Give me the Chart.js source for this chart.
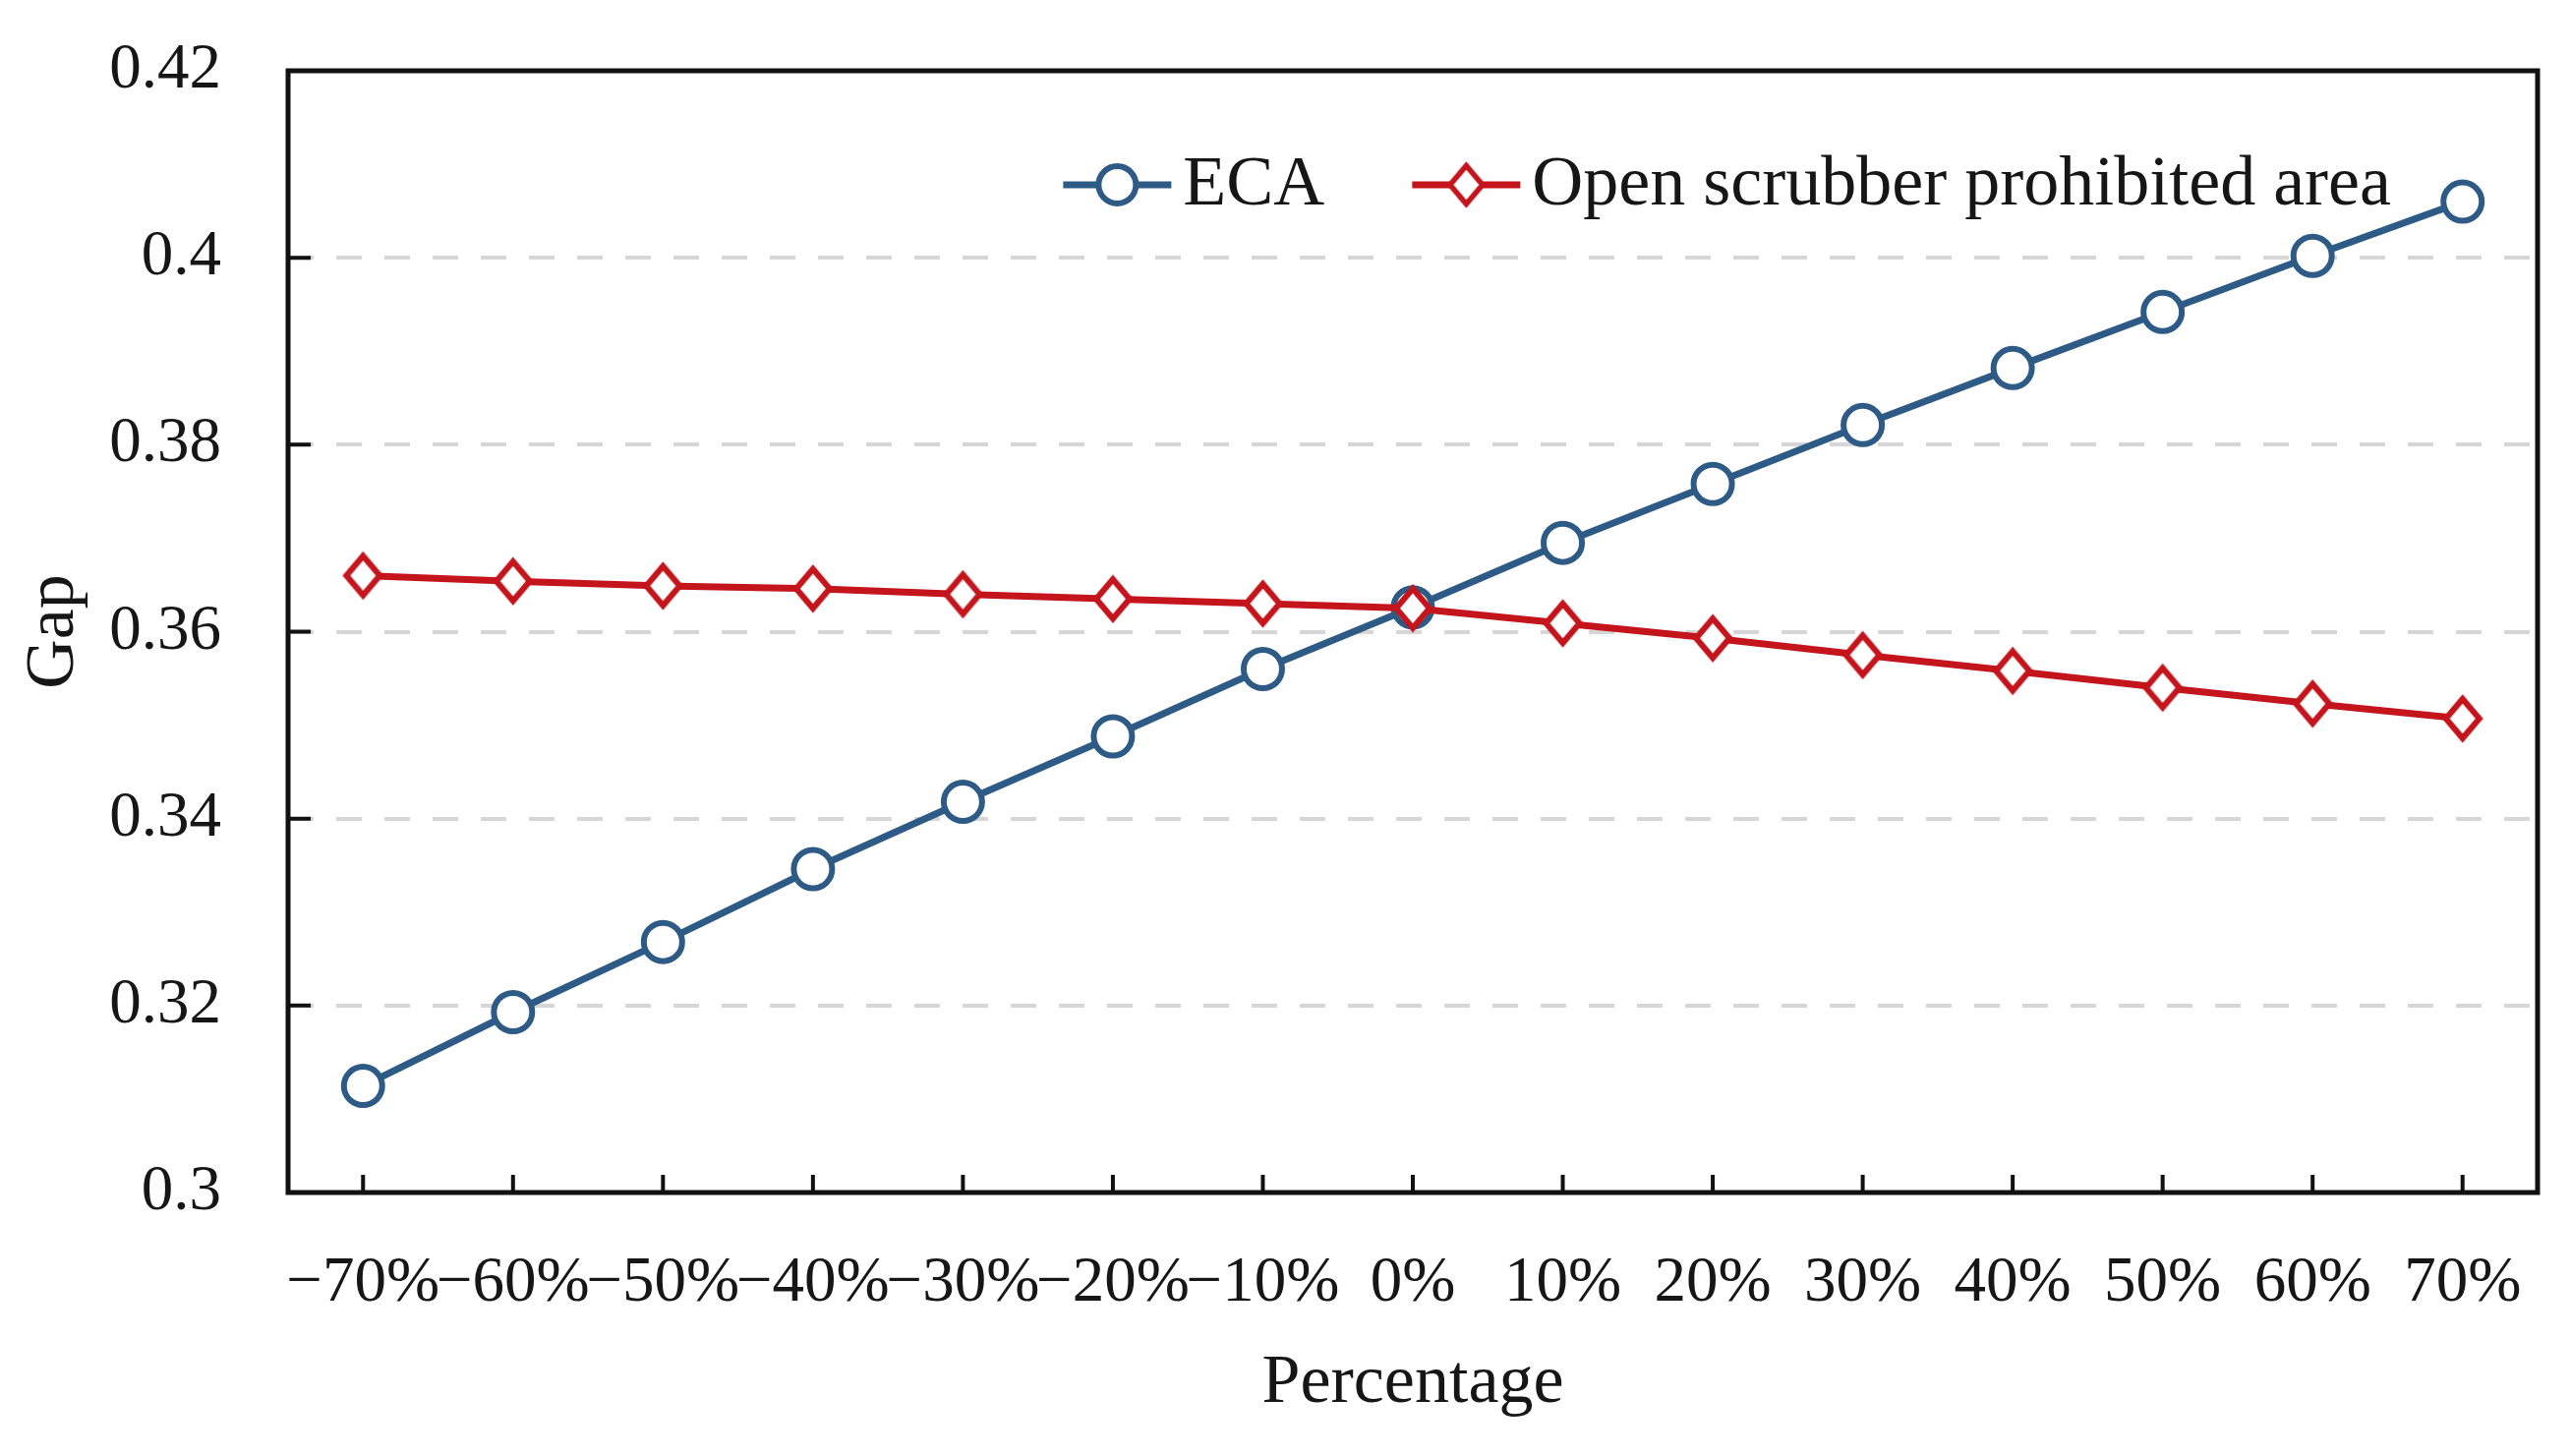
<!DOCTYPE html>
<html>
<head>
<meta charset="utf-8">
<script src="https://cdn.jsdelivr.net/npm/chart.js@4.4.1/dist/chart.umd.min.js"></script>
<style>
html,body{margin:0;padding:0;background:#ffffff;}
canvas{display:block;}
</style>
</head>
<body>
<canvas id="c" width="2615" height="1481" style="width:2615px;height:1481px"></canvas>
<script>
// ---- data ----
const categories = ['\u221270%','\u221260%','\u221250%','\u221240%','\u221230%','\u221220%','\u221210%','0%','10%','20%','30%','40%','50%','60%','70%'];
const ecaValues = [0.3114, 0.3193, 0.3268, 0.3346, 0.3418, 0.3488, 0.3560, 0.3626, 0.3695, 0.3758, 0.3821, 0.3882, 0.3942, 0.4002, 0.4060];
const openScrubberValues = [0.3660, 0.3654, 0.3649, 0.3646, 0.3640, 0.3635, 0.3630, 0.3625, 0.3609, 0.3593, 0.3575, 0.3558, 0.3540, 0.3523, 0.3507];
const seriesNames = ['ECA', 'Open scrubber prohibited area'];
const yTickLabels = ['0.3', '0.32', '0.34', '0.36', '0.38', '0.4', '0.42'];
const yMin = 0.3, yMax = 0.42, yStep = 0.02;
const xTitle = 'Percentage';
const yTitle = 'Gap';

// ---- styles ----
const BLUE = '#2d5b86';
const RED = '#c4141c';
const TEXT = '#161616';
const TICK_FONT = {family: '"Liberation Serif", "Times New Roman", serif', size: 65};
const TITLE_FONT = {family: '"Liberation Serif", "Times New Roman", serif', size: 70};
const LEGEND_FONT = {family: '"Liberation Serif", "Times New Roman", serif', size: 72};
const AREA = {left: 293, top: 72, right: 2581, bottom: 1213};

function makeDiamond(w, h, lw, color) {
  const c = document.createElement('canvas');
  c.width = w; c.height = h;
  const g = c.getContext('2d');
  g.beginPath();
  g.moveTo(w / 2, lw);
  g.lineTo(w - lw, h / 2);
  g.lineTo(w / 2, h - lw);
  g.lineTo(lw, h / 2);
  g.closePath();
  g.fillStyle = '#ffffff';
  g.fill();
  g.lineWidth = lw;
  g.lineJoin = 'miter';
  g.strokeStyle = color;
  g.stroke();
  return c;
}
const diamondPoint = makeDiamond(46, 52, 6, RED);
const diamondLegend = makeDiamond(44, 50, 5.5, RED);

const framePlugin = {
  id: 'frame',
  afterDatasetsDraw(chart) {
    const {ctx, chartArea: a, scales: {x, y}} = chart;
    ctx.save();
    ctx.strokeStyle = '#111111';
    ctx.lineCap = 'butt';
    ctx.lineWidth = 4;
    ctx.beginPath();
    x.ticks.forEach((t, i) => {
      const px = x.getPixelForTick(i);
      ctx.moveTo(px, a.bottom);
      ctx.lineTo(px, a.bottom - 18);
    });
    y.ticks.forEach((t, i) => {
      const py = y.getPixelForTick(i);
      ctx.moveTo(a.left, py);
      ctx.lineTo(a.left + 23, py);
    });
    ctx.stroke();
    ctx.lineWidth = 5;
    ctx.strokeRect(a.left, a.top, a.right - a.left, a.bottom - a.top);
    ctx.restore();
  }
};

const legendPlugin = {
  id: 'customLegend',
  afterDraw(chart) {
    const {ctx, chartArea: a} = chart;
    const ds = chart.data.datasets;
    ctx.save();
    ctx.font = LEGEND_FONT.size + 'px ' + LEGEND_FONT.family;
    ctx.textBaseline = 'alphabetic';
    ctx.textAlign = 'left';
    const yMid = a.top + 116;
    const baseline = a.top + 136;
    const sampleW = 110, gapText = 12, gapItem = 89;
    const items = [ds.find(d => d.label === seriesNames[0]), ds.find(d => d.label === seriesNames[1])];
    const widths = items.map(d => ctx.measureText(d.label).width);
    let xEnd = a.right - 149;
    const pos = [];
    for (let i = items.length - 1; i >= 0; i--) {
      const textX = xEnd - widths[i];
      const sampleEnd = textX - gapText;
      const sampleStart = sampleEnd - sampleW;
      pos[i] = {textX, sampleStart, sampleEnd};
      xEnd = sampleStart - gapItem;
    }
    items.forEach((d, i) => {
      const p = pos[i];
      ctx.strokeStyle = d.borderColor;
      ctx.lineWidth = 7;
      ctx.beginPath();
      ctx.moveTo(p.sampleStart, yMid);
      ctx.lineTo(p.sampleEnd, yMid);
      ctx.stroke();
      const cx = (p.sampleStart + p.sampleEnd) / 2;
      if (d.label === seriesNames[0]) {
        ctx.beginPath();
        ctx.arc(cx, yMid, 19, 0, Math.PI * 2);
        ctx.fillStyle = '#ffffff';
        ctx.fill();
        ctx.lineWidth = 6;
        ctx.stroke();
      } else {
        ctx.drawImage(diamondLegend, cx - diamondLegend.width / 2, yMid - diamondLegend.height / 2);
      }
      ctx.fillStyle = TEXT;
      ctx.fillText(d.label, p.textX, baseline);
    });
    ctx.restore();
  }
};

const chart = new Chart(document.getElementById('c'), {
  type: 'line',
  data: {
    labels: categories,
    datasets: [
      {
        label: seriesNames[0],
        data: ecaValues,
        borderColor: BLUE,
        backgroundColor: '#ffffff',
        borderWidth: 7,
        pointStyle: 'circle',
        pointRadius: 19.5,
        pointBorderWidth: 6,
        pointBackgroundColor: '#ffffff',
        pointBorderColor: BLUE,
        tension: 0,
        order: 1
      },
      {
        label: seriesNames[1],
        data: openScrubberValues,
        borderColor: RED,
        backgroundColor: '#ffffff',
        borderWidth: 7,
        pointStyle: diamondPoint,
        pointRadius: 22,
        pointBorderWidth: 6,
        pointBackgroundColor: '#ffffff',
        pointBorderColor: RED,
        tension: 0,
        order: 0
      }
    ]
  },
  options: {
    responsive: false,
    devicePixelRatio: 1,
    animation: false,
    layout: {padding: {left: 0, right: 2615 - AREA.right, top: AREA.top, bottom: 0}},
    plugins: {
      legend: {display: false},
      tooltip: {enabled: false}
    },
    scales: {
      x: {
        type: 'category',
        offset: true,
        grid: {display: false, drawTicks: false},
        border: {display: false},
        ticks: {
          autoSkip: false,
          maxRotation: 0,
          minRotation: 0,
          padding: 54,
          color: TEXT,
          font: TICK_FONT
        },
        title: {
          display: true,
          text: xTitle,
          color: TEXT,
          font: TITLE_FONT,
          padding: {top: 0, bottom: 31}
        },
        afterFit(scale) { scale.height = 1481 - AREA.bottom; scale.paddingLeft = 0; scale.paddingRight = 0; }
      },
      y: {
        min: yMin,
        max: yMax,
        grid: {
          color: '#d6d6d6',
          lineWidth: 4,
          drawTicks: false
        },
        border: {display: false, dash: [26, 23]},
        ticks: {
          stepSize: yStep,
          padding: 68,
          color: TEXT,
          font: TICK_FONT,
          callback: (v, i) => yTickLabels[i]
        },
        title: {
          display: true,
          text: yTitle,
          color: TEXT,
          font: TITLE_FONT,
          padding: {top: 14, bottom: 0}
        },
        afterFit(scale) { scale.width = AREA.left; scale.paddingTop = 0; scale.paddingBottom = 0; }
      }
    }
  },
  plugins: [framePlugin, legendPlugin]
});

// correct any residual offset so the plot area sits where the reference has it
const pad = chart.options.layout.padding;
const dTop = chart.chartArea.top - AREA.top;
const dBottom = chart.chartArea.bottom - AREA.bottom;
if (Math.abs(dTop) > 0.5 || Math.abs(dBottom) > 0.5) {
  pad.top -= dTop;
  pad.bottom += dBottom;
  chart.update();
}
</script>
</body>
</html>
